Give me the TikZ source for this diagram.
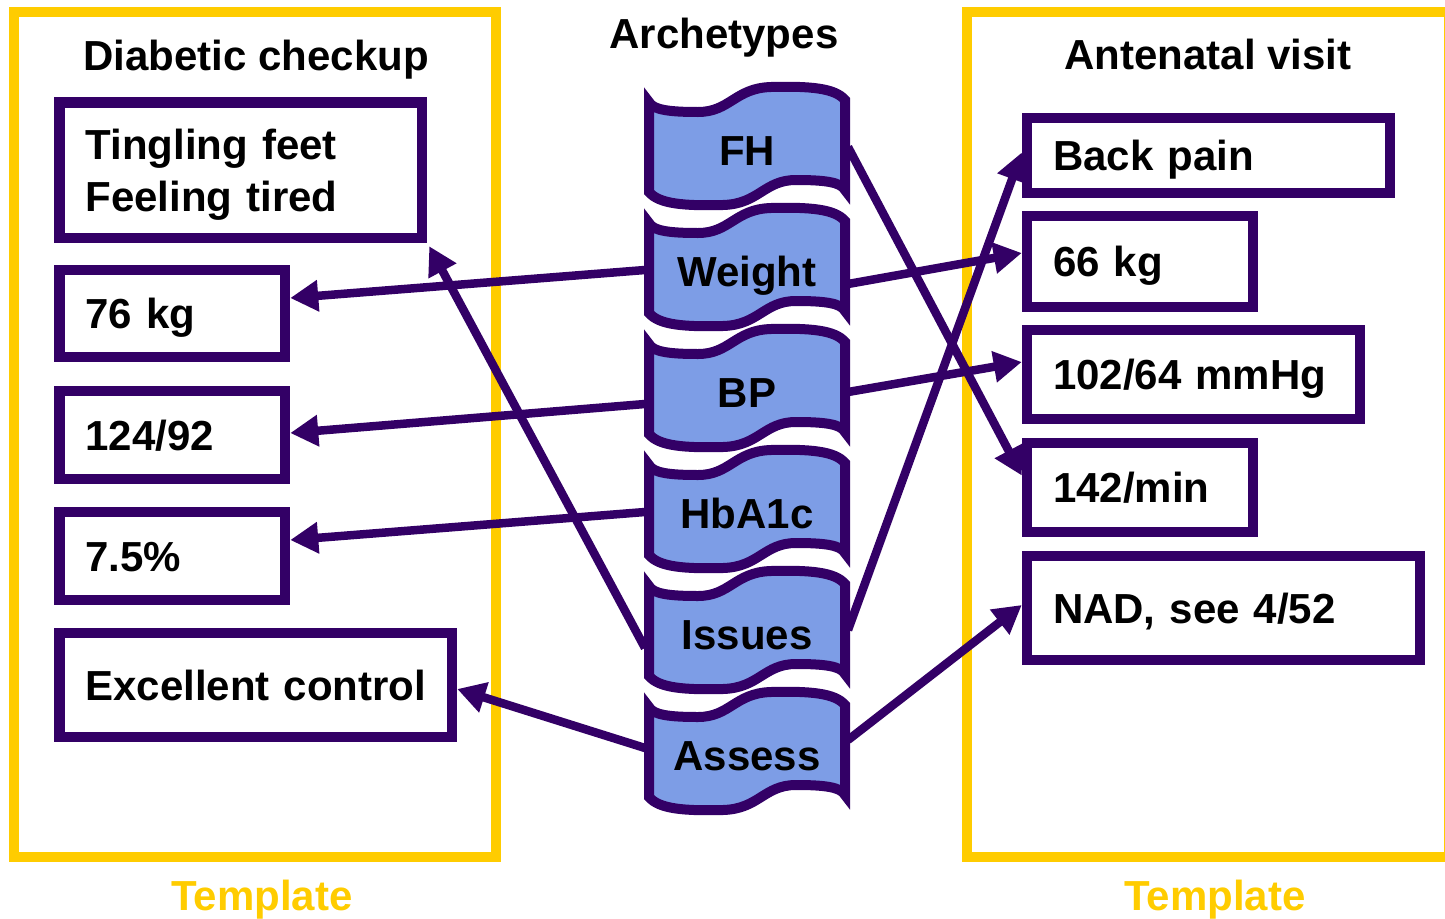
\documentclass[tikz,border=0pt]{standalone}
\usepackage{fontspec}
\setmainfont{Liberation Sans}
\usetikzlibrary{arrows.meta,calc}
\definecolor{dpurple}{RGB}{51,0,102}
\definecolor{tileblue}{RGB}{125,157,230}
\definecolor{tyellow}{RGB}{255,204,0}
\begin{document}
\begin{tikzpicture}[x=1pt,y=-1pt,
  font=\fontsize{42pt}{52pt}\selectfont\bfseries,
  frame/.style={draw=tyellow,line width=10pt},
  box/.style={draw=dpurple,line width=10.5pt,inner sep=0pt,
    text height=30pt,text depth=0pt,align=left},
  tile/.style={draw=dpurple,fill=tileblue,line width=10pt,line join=miter},
  tiletext/.style={inner sep=0pt,text height=30pt,text depth=0pt},
  title/.style={anchor=base,inner sep=0pt},
  ttl/.style={anchor=base,inner sep=0pt,text=tyellow},
  arr/.style={draw=dpurple,line width=8.5pt,-{Triangle[length=28pt,width=30pt]}}]
\useasboundingbox (0,0) rectangle (1445,918);
% template frames
\draw[frame] (13.5,12) rectangle (496,857);
\draw[frame] (967,12) rectangle (1449,857);
% titles
\node[title] (tdiab) at (256,70) {Diabetic checkup};
\node[title] (tante) at (1208,69) {Antenatal visit};
\node[title] (tarch) at (724,48) {Archetypes};
\node[ttl] (tmpl1) at (262,910) {Template};
\node[ttl] (tmpl2) at (1215,910) {Template};
% archetype tiles
\foreach \k in {0,...,5}{
  \begin{scope}[shift={(0,121*\k)}]
  \draw[tile] (649,102) .. controls (653,110) and (670,112) .. (698,112)
    .. controls (730,112) and (735,88) .. (771,87)
    .. controls (810,86) and (835,88) .. (845,100)
    -- (845,190)
    .. controls (841,182) and (824,180) .. (796,180)
    .. controls (764,180) and (759,204) .. (723,205)
    .. controls (684,206) and (659,204) .. (649,192)
    -- cycle;
  \end{scope}
}
\node[tiletext] (fh) at (747,150) {FH};
\node[tiletext] (weight) at (747,271) {Weight};
\node[tiletext] (bp) at (747,392) {BP};
\node[tiletext] (hba) at (747,513) {HbA1c};
\node[tiletext] (issues) at (747,634) {Issues};
\node[tiletext] (assess) at (747,755) {Assess};
% left boxes
\node[box,minimum width=362.5pt,minimum height=135.5pt,text width=310.5pt,
  text height=30pt,text depth=52pt] (ting) at (240.75,170.25) {\mbox{Tingling feet}\\\mbox{Feeling tired}};
\node[box,minimum width=225.5pt,minimum height=87pt,text width=173.5pt] (kg76) at (172.25,313.5) {\mbox{76 kg}};
\node[box,minimum width=225.5pt,minimum height=88pt,text width=173.5pt] (bpl) at (172.25,435) {\mbox{124/92}};
\node[box,minimum width=225.5pt,minimum height=88pt,text width=173.5pt] (hbl) at (172.25,556) {\mbox{7.5\%}};
\node[box,minimum width=392.5pt,minimum height=104pt,text width=340.5pt] (exc) at (255.75,685) {\mbox{Excellent control}};
% right boxes
\node[box,minimum width=363pt,minimum height=75pt,text width=311pt] (back) at (1208.5,155.5) {\mbox{Back pain}};
\node[box,minimum width=226pt,minimum height=91pt,text width=174pt] (kg66) at (1140,261.5) {\mbox{66 kg}};
\node[box,minimum width=333pt,minimum height=89pt,text width=281pt] (mmhg) at (1193.5,374.5) {\mbox{102/64 mmHg}};
\node[box,minimum width=226pt,minimum height=89pt,text width=174pt] (pmin) at (1140,487.5) {\mbox{142/min}};
\node[box,minimum width=393pt,minimum height=104pt,text width=341pt] (nad) at (1223.5,608) {\mbox{NAD, see 4/52}};
% connectors
\draw[arr] ($(weight)+(-102,-1)$) -- ($(kg76.east)+(0,-15.5)$);
\draw[arr] ($(bp)+(-102,12)$) -- ($(bpl.east)+(0,-2)$);
\draw[arr] ($(hba)+(-102,-1)$) -- ($(hbl.east)+(0,-16)$);
\draw[arr] ($(assess)+(-102,-7)$) -- ($(exc.east)+(0,4)$);
\draw[arr] ($(issues)+(-102,14)$) -- ($(ting.south east)+(2,3)$);
\draw[arr] ($(fh)+(101,-3)$) -- ($(pmin.west)+(0,-12)$);
\draw[arr] ($(weight)+(101,13)$) -- ($(kg66.west)+(0,-8.5)$);
\draw[arr] ($(bp)+(101,0)$) -- ($(mmhg.west)+(0,-12.5)$);
\draw[arr] ($(issues)+(101,-4)$) -- ($(back.west)+(0,-3)$);
\draw[arr] ($(assess)+(101,-15)$) -- ($(nad.west)+(0,-3)$);
\end{tikzpicture}
\end{document}
